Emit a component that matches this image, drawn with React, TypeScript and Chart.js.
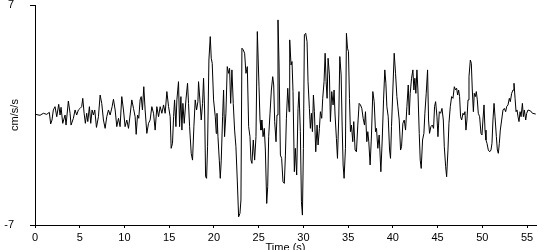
import { useEffect, useRef } from "react";
import { Chart, registerables } from "chart.js";

Chart.register(...registerables);

// ---- data (time in s, acceleration in cm/s/s) ----
const seg1Time = [0, 0.56, 0.93, 1.31, 1.6, 1.75, 1.9, 2.05, 2.24, 2.43, 2.65, 2.8, 2.91, 3.1, 3.36, 3.47, 3.73, 3.92, 4.03, 4.29, 4.48, 4.66, 4.85, 5.04, 5.22, 5.34, 5.49, 5.63, 5.78, 5.9, 6.08, 6.23, 6.38, 6.53, 6.68, 6.87, 7.09, 7.28, 7.46, 7.65, 7.84, 8.02, 8.21, 8.4, 8.62, 8.77, 8.96, 9.14, 9.33, 9.51, 9.7, 9.89, 10.07, 10.26, 10.45, 10.63, 10.82, 11.01, 11.19, 11.31, 11.46, 11.6, 11.75, 11.87, 12.01, 12.16, 12.31, 12.5, 12.69, 12.87, 13.06, 13.25, 13.43, 13.62, 13.81, 13.99, 14.18, 14.37];
const seg1Acc = [0.05, -0.02, 0.11, 0.04, 0.17, -0.57, -0.32, 0.32, 0.53, -0.11, 0.68, 0, 0.49, -0.53, 0, -0.64, 0.89, 0.11, -0.64, -0.21, 0.32, 0, 0.32, 0.42, 0.53, 1.06, 0.11, -0.53, 0.11, -0.42, 0.53, -0.53, 0.32, 0, 0.32, -0.79, -0.11, 1.27, 0.74, -0.32, -0.85, -0.11, 0.32, 0, 0.53, 1.0, 0.32, -0.74, -0.21, -0.74, 1.17, 0.32, -0.74, -0.32, -0.85, 0, 0.96, 0.42, -0.11, -1.23, 0, -0.21, 0.96, 1.17, 0.32, 1.8, 0.32, -1.17, -0.53, -0.32, 0.53, 0.11, -0.96, 0.53, -0.11, 0.53, 0.11, 0.64];

const seg2Time = [14.55, 14.74, 14.93, 15.11, 15.22, 15.37, 15.49, 15.6, 15.75, 15.86, 16.04, 16.16, 16.31, 16.42, 16.53, 16.68, 16.87, 17.05, 17.16, 17.28, 17.46, 17.61, 17.76, 17.91, 18.06, 18.21, 18.28, 18.43, 18.58, 18.73, 18.84, 18.96, 19.07, 19.18, 19.29, 19.44, 19.59, 19.7, 19.81, 19.96, 20.15, 20.26, 20.34, 20.45, 20.6, 20.71, 20.82, 20.97, 21.08, 21.19, 21.34, 21.49, 21.64, 21.75, 21.87, 22.01, 22.16, 22.31, 22.46, 22.61, 22.76, 22.91, 23.02, 23.13, 23.28, 23.43, 23.58, 23.73, 23.88, 24.03, 24.14, 24.25, 24.4, 24.55, 24.7, 24.85, 25.04, 25.15, 25.26, 25.37, 25.49, 25.63, 25.75, 25.9, 26.01, 26.12, 26.27, 26.42, 26.57];
const seg2Acc = [0.11, 1.49, 0.53, -0.11, -2.12, -1.8, -0.11, 0.96, -0.74, 0.96, 2.12, -0.74, 1.17, -0.96, 0.74, -0.53, 0.96, 2.02, 0.74, -0.74, -2.44, -2.87, -0.74, 0.96, 0.32, 0.85, 2.12, 0.96, -0.32, 0.74, 2.34, 0.32, -3.93, -4.03, -2.02, 3.5, 4.99, 3.61, 3.29, 0.96, -0.11, -1.17, 0.11, -1.38, -2.87, -4.03, -2.87, -0.11, 1.59, -1.38, 0.11, 3.08, 2.65, 2.97, 0.74, 2.87, 0.74, -0.96, -2.02, -4.14, -6.48, -6.26, -5.41, 4.25, 4.14, 3.93, 2.65, 3.08, -0.74, -1.38, -2.87, -3.08, -1.59, -2.87, -1.38, 5.31, 1.8, -0.32, -0.96, -0.32, -1.38, -0.85, -2.23, -5.63, -4.56, -1.38, 0.11, 1.59, 2.44];

const seg3Time = [26.68, 26.79, 26.94, 27.05, 27.16, 27.28, 27.43, 27.57, 27.72, 27.87, 27.99, 28.1, 28.25, 28.4, 28.47, 28.62, 28.73, 28.84, 28.99, 29.1, 29.25, 29.4, 29.51, 29.66, 29.78, 29.89, 30.0, 30.11, 30.26, 30.41, 30.52, 30.67, 30.78, 30.9, 31.01, 31.12, 31.23, 31.38, 31.53, 31.64, 31.79, 31.9, 32.05, 32.16, 32.31, 32.43, 32.54, 32.65, 32.76, 32.91, 33.02, 33.17, 33.32, 33.43, 33.54, 33.69, 33.81, 33.96, 34.07, 34.22, 34.33, 34.44, 34.55, 34.7, 34.81, 34.93, 35.04, 35.15, 35.26, 35.37, 35.52, 35.63, 35.78, 35.93, 36.08, 36.23, 36.38, 36.53, 36.68, 36.83, 36.94, 37.09, 37.2, 37.31, 37.46, 37.61, 37.76, 37.91, 38.06, 38.17, 38.32, 38.47];
const seg3Acc = [1.91, -0.42, -1.7, 0, 6.05, 3.18, -2.55, -2.76, -4.25, -4.35, -2.55, -0.21, 1.7, 0.21, 4.78, 3.18, 3.4, 1.49, -3.61, -2.12, -3.82, 0.42, 1.49, -1.06, -5.52, -6.37, -2.12, 5.1, 5.2, 4.67, 2.12, 0.42, -0.85, 0.11, -1.06, 1.27, 0.21, -2.34, -0.64, -1.91, -0.85, 0.21, -0.21, 1.06, 2.12, 3.93, 2.12, 1.06, 3.61, 2.55, -0.42, 1.49, 0.64, 1.59, 0, -1.49, -2.76, 0, 3.72, 2.55, -0.64, -3.18, -4.03, -2.12, 5.2, 4.25, 4.03, 1.06, -1.06, -0.64, -1.7, -0.42, -2.23, -2.34, -0.64, 0.74, 0.64, 0.42, -0.21, -0.64, 0.21, -1.7, -1.06, -1.7, -3.18, -1.27, 1.49, 0.85, -1.06, -0.85, -2.12, -1.27];

const seg4Time = [38.66, 38.81, 38.96, 39.1, 39.22, 39.33, 39.48, 39.63, 39.74, 39.85, 40.0, 40.15, 40.3, 40.45, 40.56, 40.71, 40.86, 40.97, 41.12, 41.27, 41.42, 41.57, 41.72, 41.83, 41.94, 42.09, 42.24, 42.35, 42.46, 42.57, 42.69, 42.8, 42.95, 43.06, 43.17, 43.32, 43.47, 43.58, 43.73, 43.88, 43.99, 44.1, 44.25, 44.4, 44.55, 44.66, 44.78, 44.93, 45.04, 45.19, 45.34, 45.49, 45.64, 45.75, 45.9, 46.01, 46.16, 46.27, 46.42, 46.57, 46.72, 46.87, 47.01, 47.13, 47.24, 47.35, 47.46, 47.57, 47.69, 47.84, 47.95, 48.06, 48.17, 48.28, 48.4, 48.51, 48.66, 48.77, 48.88, 49.0, 49.1, 49.22, 49.33, 49.44, 49.55, 49.7, 49.85, 49.96, 50.07, 50.19, 50.3, 50.41, 50.52, 50.67, 50.82, 50.97, 51.08, 51.19, 51.31, 51.42, 51.57, 51.68, 51.79, 51.9, 52.01, 52.16, 52.31, 52.46, 52.61, 52.72, 52.87, 53.02, 53.13, 53.28, 53.43, 53.54, 53.66, 53.77, 53.88, 53.99, 54.1, 54.22, 54.33, 54.48, 54.59, 54.7, 54.85, 54.96, 55.11, 55.41, 55.6, 55.97];
const seg4Acc = [-3.61, -1.59, 0.96, 2.87, 2.02, 0.53, -0.11, -2.23, -2.76, -0.74, 1.59, 3.93, 2.65, 1.17, 0.53, -0.32, -2.23, -2.02, -0.53, -0.32, -0.96, 0.53, 1.91, 0, 1.38, 2.34, 2.87, 1.59, 2.34, 1.38, 2.87, 1.59, -1.17, -2.87, -3.4, -1.59, -1.17, 0.11, 1.38, 2.87, -0.32, -1.17, -0.74, -0.64, -0.85, 0.53, 0.85, -0.11, -1.38, 0.21, 0.11, 0.42, -0.32, -2.02, -3.29, -3.93, -2.23, -0.53, 0.53, 1.17, 1.06, 1.8, 1.59, 1.7, 1.27, 1.59, 1.17, -0.11, -0.32, 0.11, 0, 0.21, -0.96, -0.32, 0.96, 2.44, 3.5, 3.29, 1.59, 0.21, 1.38, 1.17, 1.49, 0.96, 0.11, -0.11, -1.17, -1.27, -0.32, 0.64, -0.96, -1.59, -1.8, -2.23, -2.34, -2.23, -1.8, -0.32, 0.74, -0.11, -1.38, -2.23, -2.44, -1.8, -0.96, -0.32, 0.32, 0.42, 0.21, 0.53, 0.64, 1.06, 0.85, 1.38, 1.59, 2.02, 1.06, 0.21, 0.32, -0.11, -0.42, 0.21, -0.11, 0.74, -0.11, 0.32, -0.32, 0.11, 0.32, 0.25, 0.11, 0.06];

const xTickValues = [0, 5, 10, 15, 20, 25, 30, 35, 40, 45, 50, 55];
const yTickValues = [-7, 7];
const xMin = 0;
const xMax = 56;
const yMin = -7;
const yMax = 7;
const xTitle = "Time (s)";
const yTitle = "cm/s/s";

const FONT = "'Liberation Sans', Arial, sans-serif";

export default function App() {
  const canvasRef = useRef<HTMLCanvasElement | null>(null);

  useEffect(() => {
    document.body.style.margin = "0";
    const times = [...seg1Time, ...seg2Time, ...seg3Time, ...seg4Time];
    const acc = [...seg1Acc, ...seg2Acc, ...seg3Acc, ...seg4Acc];
    const points = times.map((t, i) => ({ x: t, y: acc[i] }));

    const chart = new Chart(canvasRef.current as HTMLCanvasElement, {
      type: "line",
      data: {
        datasets: [
          {
            data: points,
            borderColor: "#000000",
            borderWidth: 1,
            pointRadius: 0,
            tension: 0,
            fill: false,
          },
        ],
      },
      options: {
        animation: false,
        responsive: false,
        maintainAspectRatio: false,
        layout: { padding: { top: 5, right: 14, left: 0, bottom: 0 } },
        plugins: { legend: { display: false }, tooltip: { enabled: false } },
        scales: {
          x: {
            type: "linear",
            min: xMin,
            max: xMax,
            afterBuildTicks: (s: any) => {
              s.ticks = xTickValues.map((v) => ({ value: v }));
            },
            afterFit: (s: any) => {
              s.height = 25;
              s.paddingLeft = 0;
              s.paddingRight = 0;
            },
            grid: { drawOnChartArea: false, tickLength: 3, color: "#000000" },
            border: { color: "#000000", width: 1 },
            ticks: {
              color: "#000000",
              font: { family: FONT, size: 11 },
              padding: 3,
              maxRotation: 0,
              autoSkip: false,
            },
            title: {
              display: true,
              text: xTitle,
              color: "#000000",
              font: { family: FONT, size: 11, lineHeight: 1 },
              padding: { top: 0, bottom: -3 },
            },
          },
          y: {
            type: "linear",
            min: yMin,
            max: yMax,
            afterBuildTicks: (s: any) => {
              s.ticks = yTickValues.map((v) => ({ value: v }));
            },
            afterFit: (s: any) => {
              s.width = 35;
              s.paddingTop = 0;
              s.paddingBottom = 0;
            },
            grid: { drawOnChartArea: false, tickLength: 5, color: "#000000" },
            border: { color: "#000000", width: 1 },
            ticks: {
              color: "#000000",
              font: { family: FONT, size: 11 },
              padding: 16,
            },
            title: {
              display: true,
              text: yTitle,
              color: "#000000",
              font: { family: FONT, size: 11, lineHeight: 1 },
              padding: { top: 9, bottom: 0 },
            },
          },
        },
      },
    });
    return () => chart.destroy();
  }, []);

  return (
    <div style={{ width: 550, height: 250 }}>
      <canvas ref={canvasRef} width={550} height={250} style={{ display: "block" }} />
    </div>
  );
}
